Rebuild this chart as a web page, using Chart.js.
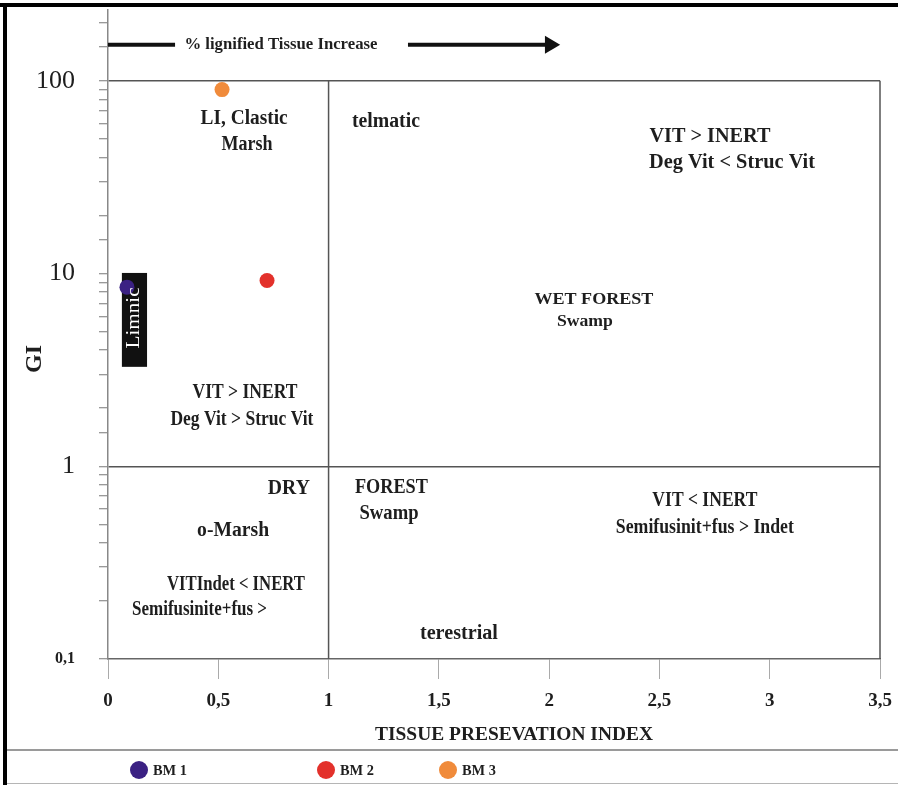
<!DOCTYPE html>
<html><head><meta charset="utf-8">
<script src="https://cdn.jsdelivr.net/npm/chart.js@4"></script>
<style>html,body{margin:0;padding:0;background:#fff;}#wrap{width:898px;height:785px;position:relative;}</style>
</head><body><div id="wrap"><canvas id="c"></canvas></div>
<script>
// ---- data ----
const seriesNames = ['BM 1', 'BM 2', 'BM 3'];
const seriesColors = ['#3b2183', '#e3312b', '#f08b3b'];
const tpiValues = [0.086, 0.721, 0.517];   // Tissue Preservation Index
const giValues = [8.5, 9.2, 90];           // Gelification Index
const xTickLabels = ['0', '0,5', '1', '1,5', '2', '2,5', '3', '3,5'];
const yTickValues = [0.1, 1, 10, 100];
const yTickLabels = ['0,1', '1', '10', '100'];

// ---- annotation texts (positions in data units) ----
const zoneTexts = ['LI, Clastic', 'Marsh', 'telmatic', 'VIT > INERT', 'Deg Vit < Struc Vit', 'WET FOREST', 'Swamp',
  'VIT > INERT', 'Deg Vit > Struc Vit', 'DRY', 'FOREST', 'Swamp', 'VIT < INERT', 'Semifusinit+fus > Indet',
  'o-Marsh', 'VITIndet < INERT', 'Semifusinite+fus >', 'terestrial'];
const zoneX = [0.617, 0.630, 1.260, 2.729, 2.829, 2.203, 2.162, 0.621, 0.607, 0.820, 1.285, 1.274, 2.706, 2.706, 0.567, 0.580, 0.415, 1.591];
const zoneY = [63.4, 46.5, 61.2, 51.2, 37.5, 7.31, 5.62, 2.40, 1.74, 0.766, 0.773, 0.567, 0.662, 0.480, 0.462, 0.242, 0.180, 0.135];
const zoneSize = [20, 20, 20, 21, 21, 17, 17, 20, 20, 20, 20, 20, 20, 20, 20, 20, 20, 20];
const zoneWidth = [87, 51, 68, 121, 166, 119, 56, 105, 143, 42, 73, 59, 105, 178, 72, 138, 135, 78];

const FAMILY = '"Liberation Serif", "Times New Roman", serif';

function fitText(ctx, text, cx, cy, size, w, opt) {
  opt = opt || {};
  ctx.save();
  ctx.font = (opt.weight || 'bold') + ' ' + size + 'px ' + FAMILY;
  const m = ctx.measureText(text).width;
  const sx = w ? w / m : 1;
  ctx.translate(cx, cy);
  if (opt.rot) ctx.rotate(opt.rot);
  ctx.scale(sx, 1);
  ctx.textAlign = 'center';
  ctx.textBaseline = 'middle';
  ctx.fillStyle = opt.color || '#1e1e1e';
  ctx.fillText(text, 0, 0);
  ctx.restore();
}

const decor = {
  id: 'decor',
  beforeDraw(chart) {
    const c = chart.ctx;
    c.save(); c.fillStyle = '#fff'; c.fillRect(0, 0, chart.width, chart.height); c.restore();
  },
  beforeDatasetsDraw(chart) {
    const c = chart.ctx, xs = chart.scales.x, ys = chart.scales.y;
    const top = ys.getPixelForValue(100), bot = ys.getPixelForValue(0.1);
    c.save();
    c.strokeStyle = '#555'; c.lineWidth = 1.5;
    [1, 3.5].forEach(v => {
      const px = xs.getPixelForValue(v);
      c.beginPath(); c.moveTo(px, top); c.lineTo(px, bot); c.stroke();
    });
    // Limnic box
    const x1 = xs.getPixelForValue(0.063), x2 = xs.getPixelForValue(0.177);
    const y1 = ys.getPixelForValue(10.07), y2 = ys.getPixelForValue(3.28);
    c.fillStyle = '#111';
    c.fillRect(x1, y1, x2 - x1, y2 - y1);
    c.restore();
  },
  afterDatasetsDraw(chart) {
    const c = chart.ctx, xs = chart.scales.x, ys = chart.scales.y;
    // Limnic label
    fitText(c, 'Limnic', xs.getPixelForValue(0.12), ys.getPixelForValue(5.88), 19, 61, { weight: 'normal', rot: -Math.PI / 2, color: '#fff' });
    // zone texts
    zoneTexts.forEach((t, i) => {
      fitText(c, t, xs.getPixelForValue(zoneX[i]), ys.getPixelForValue(zoneY[i]), zoneSize[i], zoneWidth[i]);
    });
    // arrow
    const ay = ys.getPixelForValue(154);
    c.save();
    c.strokeStyle = '#111'; c.fillStyle = '#111'; c.lineWidth = 4;
    c.beginPath(); c.moveTo(xs.getPixelForValue(0), ay); c.lineTo(xs.getPixelForValue(0.304), ay); c.stroke();
    const a1 = xs.getPixelForValue(1.36), a2 = xs.getPixelForValue(1.99), tip = xs.getPixelForValue(2.05);
    c.beginPath(); c.moveTo(a1, ay); c.lineTo(a2, ay); c.stroke();
    c.beginPath(); c.moveTo(a2 - 2, ay - 9); c.lineTo(tip, ay); c.lineTo(a2 - 2, ay + 9); c.closePath(); c.fill();
    c.restore();
    fitText(c, '% lignified Tissue Increase', xs.getPixelForValue(0.784), ay, 16, 193);
    // axis titles
    fitText(c, 'TISSUE PRESEVATION INDEX', 514, 735, 18, 278);
    fitText(c, 'GI', 35, 359, 23, 28, { rot: -Math.PI / 2 });
    // frame
    c.save();
    c.fillStyle = '#000';
    c.fillRect(0, 3, chart.width, 4);
    c.fillRect(3, 3, 4, chart.height - 3);
    c.fillStyle = '#9a9a9a';
    c.fillRect(7, 749, chart.width - 7, 2);
    c.fillStyle = '#b5b5b5';
    c.fillRect(7, 783, chart.width - 7, 1);
    c.restore();
    // legend
    const lx = [139, 326, 448];
    seriesNames.forEach((n, i) => {
      c.save();
      c.fillStyle = seriesColors[i];
      c.beginPath(); c.arc(lx[i], 770, 9, 0, Math.PI * 2); c.fill();
      c.restore();
      fitText(c, n, lx[i] + 31, 771, 14, 34);
    });
  }
};

const datasets = seriesNames.map((n, i) => ({
  label: n,
  data: [{ x: tpiValues[i], y: giValues[i] }],
  backgroundColor: seriesColors[i],
  borderWidth: 0,
  pointRadius: 7.5,
  pointHoverRadius: 7.5
}));

const near = (a, b) => Math.abs(a - b) < 1e-6 * Math.max(1, Math.abs(b));

new Chart(document.getElementById('c'), {
  type: 'scatter',
  data: { datasets },
  plugins: [decor],
  options: {
    responsive: true,
    maintainAspectRatio: false,
    animation: false,
    layout: { padding: { left: 0, top: 10, right: 18, bottom: 40 } },
    plugins: { legend: { display: false }, tooltip: { enabled: false } },
    scales: {
      x: {
        type: 'linear', min: 0, max: 3.5,
        afterFit(s) { s.height = 86; s.paddingLeft = 0; s.paddingRight = 0; },
        border: { display: true, color: '#666', width: 1.5 },
        grid: { drawOnChartArea: false, drawTicks: true, tickLength: 20, tickColor: '#aaa', tickWidth: 1 },
        ticks: {
          stepSize: 0.5, padding: 11, color: '#1e1e1e',
          font: { family: FAMILY, size: 19, weight: 'bold' },
          callback: (v) => xTickLabels[Math.round(v / 0.5)]
        },
        title: { display: false }
      },
      y: {
        type: 'logarithmic', min: 0.1, max: 233,
        afterFit(s) { s.width = 108; s.paddingTop = 0; s.paddingBottom = 0; },
        afterBuildTicks(s) { s.ticks = s.ticks.filter(t => t.value <= 200.001); },
        border: { display: true, color: '#888', width: 1.5 },
        grid: {
          drawOnChartArea: true, drawTicks: true, tickLength: 9,
          color: (ctx) => (ctx.tick && (near(ctx.tick.value, 1) || near(ctx.tick.value, 100))) ? '#555' : 'rgba(0,0,0,0)',
          lineWidth: 1.5,
          tickColor: '#777', tickWidth: 1
        },
        ticks: {
          padding: 24, color: '#1e1e1e', autoSkip: false,
          font: (ctx) => (ctx.tick && ctx.tick.value < 0.5) ? { family: FAMILY, size: 16, weight: 'bold' } : { family: FAMILY, size: 26, weight: 'normal' },
          callback: (v) => {
            const i = yTickValues.findIndex(t => near(t, v));
            return i >= 0 ? yTickLabels[i] : '';
          }
        },
        title: { display: false }
      }
    }
  }
});
</script>
</body></html>
